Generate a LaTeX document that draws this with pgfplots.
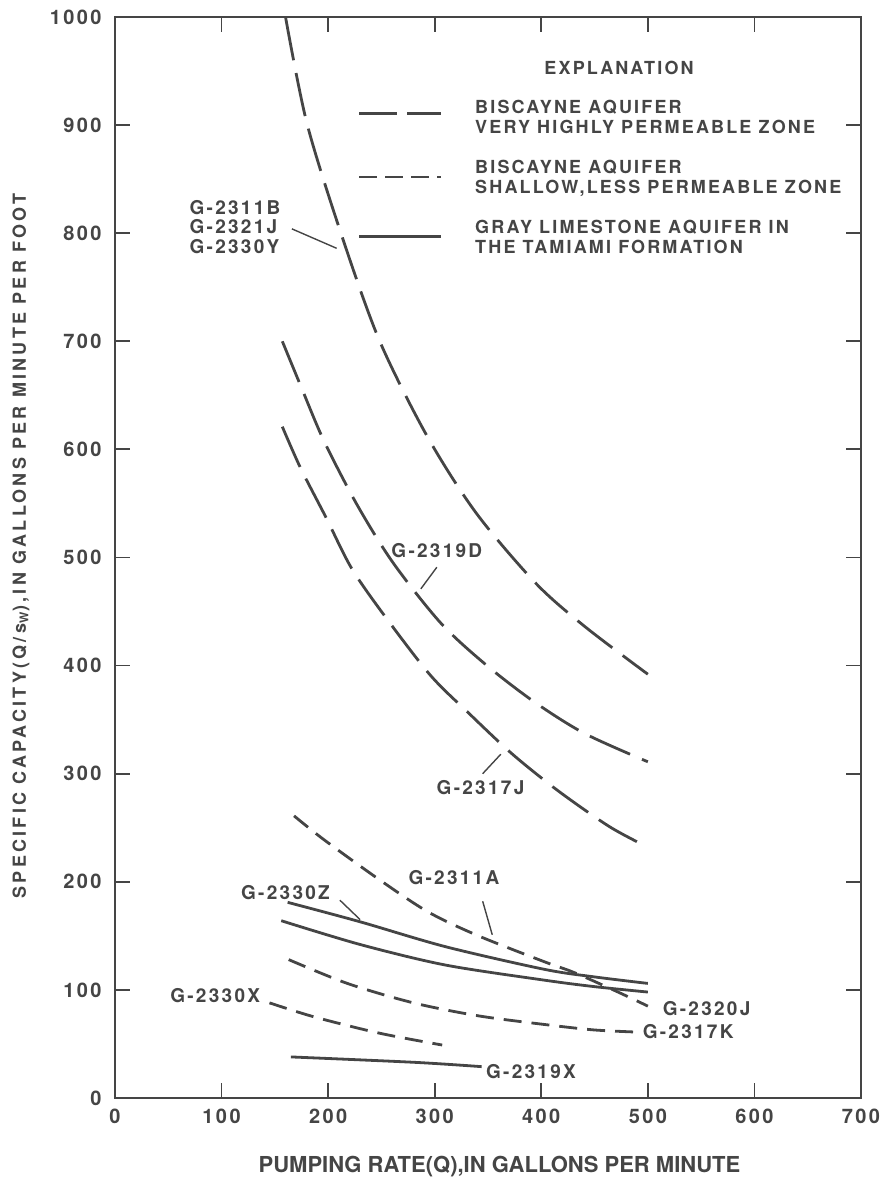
\documentclass[border=0pt]{standalone}
\usepackage{pgfplots}
\pgfplotsset{compat=1.18}
\usepackage{fontspec}
\setmainfont{TeX Gyre Heros}[LetterSpace=12]
\newfontfamily\plainfont{TeX Gyre Heros}
\newfontfamily\ylabfont{TeX Gyre Heros}[LetterSpace=18]
\definecolor{ink}{HTML}{454545}
\tikzset{
  longd/.style={ink, line width=1.4pt, dash pattern=on 22pt off 6.5pt, smooth},
  shortd/.style={ink, line width=1.4pt, dash pattern=on 9pt off 5pt, smooth},
  solidl/.style={ink, line width=1.4pt, smooth},
  leader/.style={ink, line width=0.7pt},
}
\begin{document}
\color{ink}\fontsize{9}{10}\selectfont\bfseries
\begin{tikzpicture}
\useasboundingbox (-57.5pt,-42pt) rectangle (385.5pt,549pt);
\begin{axis}[
  at={(0,0)}, anchor=south west,
  width=373pt, height=540.5pt, scale only axis,
  xmin=0, xmax=700, ymin=0, ymax=1000,
  clip=false,
  xtick={0,100,...,700}, ytick={0,100,...,1000},
  tick align=inside, major tick length=7.5pt,
  axis line style={ink, line width=1pt},
  every tick/.style={ink, line width=0.9pt},
  tick label style={font=\fontsize{10}{12}\selectfont\bfseries, text=ink},
  yticklabel style={xshift=-3.5pt},
  xticklabel style={yshift=-2.5pt},
  /pgf/number format/assume math mode=true,
  /pgf/number format/1000 sep={},
]
% Biscayne very highly permeable zone
\addplot[longd] coordinates {(160,1000) (180,902) (212,800) (248,701) (293,612) (339,541) (395,476) (441,436) (500,392)};
\addplot[longd] coordinates {(157,700) (175,657) (196,608) (227,549) (261,495) (306,439) (349,400) (394,366) (441,337) (500,311)};
\addplot[longd] coordinates {(157,621) (174,583) (198,537) (222,490) (253,446) (296,391) (333,355) (373,318) (416,284) (464,251) (500,232)};
% Biscayne shallow, less permeable zone
\addplot[shortd] coordinates {(168,261) (196,239) (248,202) (294,172) (341,150) (403,126) (431,116) (472,98) (500,85)};
\addplot[shortd] coordinates {(163,128) (218,106) (280,88) (341,76) (403,68) (449,63) (489,61)};
\addplot[shortd] coordinates {(145,88) (187,75) (248,60) (307,49)};
% Gray limestone aquifer
\addplot[solidl] coordinates {(162,181) (230,163) (310,140) (403,119) (450,112) (500,106)};
\addplot[solidl] coordinates {(156,164) (230,142) (310,123) (403,109) (450,103) (500,98)};
\addplot[solidl] coordinates {(165,38) (281,33) (344,29)};

% legend
\node at (axis cs:473,953) {EXPLANATION};
\draw[ink, line width=1.4pt, dash pattern=on 19pt off 5pt] (axis cs:229,911) -- (axis cs:306,911);
\draw[ink, line width=1.4pt, dash pattern=on 9pt off 4pt] (axis cs:229,852) -- (axis cs:306,852);
\draw[ink, line width=1.4pt] (axis cs:229,797) -- (axis cs:306,797);
\node[anchor=west, align=left] at (axis cs:332,907.5) {BISCAYNE AQUIFER\\VERY HIGHLY PERMEABLE ZONE};
\node[anchor=west, align=left] at (axis cs:332,851) {BISCAYNE AQUIFER\\SHALLOW,LESS PERMEABLE ZONE};
\node[anchor=west, align=left] at (axis cs:332,796.5) {GRAY LIMESTONE AQUIFER IN\\THE TAMIAMI FORMATION};

% curve labels
\node[anchor=west, align=left, font=\fontsize{9.5}{9.7}\selectfont\bfseries] at (axis cs:64,806) {G-2311B\\G-2321J\\G-2330Y};
\draw[leader] (axis cs:166,804) -- (axis cs:208,786);
\begin{scope}[every node/.style={font=\fontsize{9.5}{10}\selectfont\bfseries}]
\node at (axis cs:302,506) {G-2319D};
\draw[leader] (axis cs:302,491) -- (axis cs:287,471);
\node at (axis cs:343,287) {G-2317J};
\draw[leader] (axis cs:345,300) -- (axis cs:362,318);
\node at (axis cs:318,204) {G-2311A};
\draw[leader] (axis cs:345,182) -- (axis cs:354,151);
\node at (axis cs:160,190) {G-2330Z};
\draw[leader] (axis cs:211,183) -- (axis cs:230,165);
\node[anchor=west] at (axis cs:508,83) {G-2320J};
\node[anchor=west, inner sep=1pt] at (axis cs:493,61) {G-2317K};
\node at (axis cs:94,95) {G-2330X};
\node[anchor=west, inner sep=1pt] at (axis cs:346,24) {G-2319X};
\end{scope}

% axis labels
\node[rotate=90] at (rel axis cs:0,0.5107) [yshift=47pt] {\ylabfont\fontsize{9}{10}\selectfont\bfseries SPECIFIC CAPACITY(Q/s\textsubscript{W}),IN GALLONS PER MINUTE PER FOOT};
\node at (rel axis cs:0.5154,0) [yshift=-34.5pt] {\plainfont\fontsize{11}{13}\selectfont\bfseries PUMPING RATE(Q),IN GALLONS PER MINUTE};
\end{axis}
\end{tikzpicture}
\end{document}
